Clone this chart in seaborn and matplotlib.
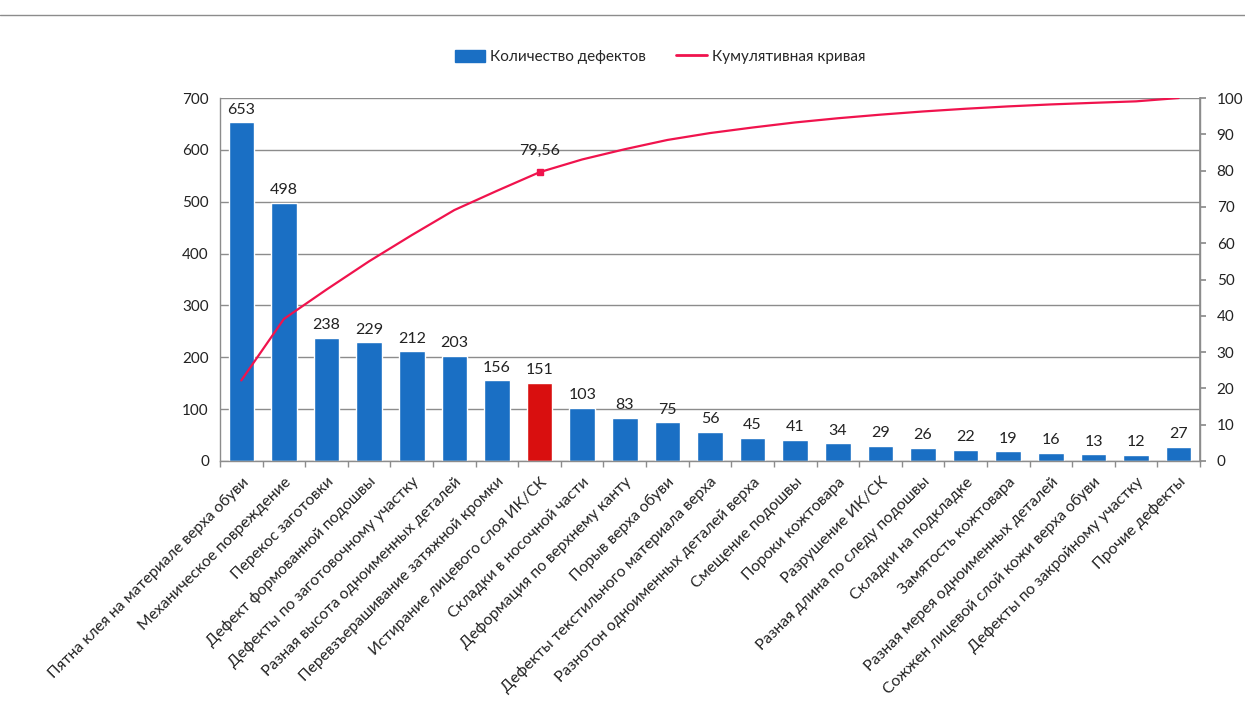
import numpy as np
import matplotlib
matplotlib.use("Agg")
import matplotlib.pyplot as plt
import seaborn as sns
from matplotlib.patches import Patch
from matplotlib.lines import Line2D

categories = [
    "Пятна клея на материале верха обуви",
    "Механическое повреждение",
    "Перекос заготовки",
    "Дефект формованной подошвы",
    "Дефекты по заготовочному участку",
    "Разная высота одноименных деталей",
    "Перевзъерашивание затяжной кромки",
    "Истирание лицевого слоя ИК/СК",
    "Складки в носочной части",
    "Деформация по верхнему канту",
    "Порыв верха обуви",
    "Дефекты текстильного материала верха",
    "Разнотон одноименных деталей верха",
    "Смещение подошвы",
    "Пороки кожтовара",
    "Разрушение ИК/СК",
    "Разная длина по следу подошвы",
    "Складки на подкладке",
    "Замятость кожтовара",
    "Разная мерея одноименных деталей",
    "Сожжен лицевой слой кожи верха обуви",
    "Дефекты по закройному участку",
    "Прочие дефекты",
]
counts = [653, 498, 238, 229, 212, 203, 156, 151, 103, 83, 75, 56, 45, 41, 34,
          29, 26, 22, 19, 16, 13, 12, 27]
cumulative = [22.20, 39.14, 47.23, 55.02, 62.22, 69.13, 74.43, 79.56, 83.07,
              85.89, 88.44, 90.34, 91.87, 93.27, 94.42, 95.41, 96.29, 97.04,
              97.69, 98.23, 98.67, 99.08, 100.0]
highlight_index = 7
left_ticks = [0, 100, 200, 300, 400, 500, 600, 700]
right_ticks = [0, 10, 20, 30, 40, 50, 60, 70, 80, 90, 100]
legend_labels = ["Количество дефектов", "Кумулятивная кривая"]

sns.set_theme(style="white")
plt.rcParams['font.family'] = ['Lato', 'DejaVu Sans']

BLUE = "#1a6fc4"
RED_BAR = "#d90f0f"
LINE = "#f0134d"
GRID = "#8c8c8c"
TXT = "#222222"

fig = plt.figure(figsize=(12.45, 7.22), dpi=100)
ax = fig.add_axes([220/1245, 1-461/722, (1200-220)/1245, (461-98)/722])

n = len(categories)
colors = [RED_BAR if i == highlight_index else BLUE for i in range(n)]
sns.barplot(x=list(range(n)), y=counts, hue=list(range(n)), palette=colors,
            legend=False, width=0.6, ax=ax, saturation=1)

ax.set_xlim(-0.5, n - 0.5)
ax.set_ylim(0, 700)
ax.set_yticks(left_ticks)
ax.set_yticklabels([str(t) for t in left_ticks], fontsize=11, color=TXT)
ax.yaxis.grid(True, color=GRID, lw=1)
ax.set_axisbelow(True)
ax.set_xlabel("")
ax.set_ylabel("")

# x tick labels
ax.set_xticks(range(n))
ax.set_xticklabels(categories, rotation=45, ha="right", rotation_mode="anchor",
                   fontsize=11.3, color=TXT)
ax.tick_params(axis="x", length=0, pad=10)
ax.tick_params(axis="y", length=0, pad=8)
ax.set_xticks(np.arange(-0.5, n, 1.0), minor=True)
ax.tick_params(axis="x", which="minor", length=4, color=GRID, direction="out", bottom=True)

ax.spines["top"].set_visible(False)
for side in ["left", "bottom", "right"]:
    ax.spines[side].set_color(GRID)
    ax.spines[side].set_linewidth(1)

# bar labels
for i, v in enumerate(counts):
    ax.annotate(str(v), (i, v), xytext=(0, 4), textcoords="offset points",
                ha="center", va="bottom", fontsize=11.5, color=TXT)

# cumulative curve
ax2 = ax.twinx()
sns.lineplot(x=list(range(n)), y=cumulative, ax=ax2, color=LINE, lw=1.6)
ax2.set_ylim(0, 100)
ax2.set_yticks(right_ticks)
ax2.set_yticklabels([str(t) for t in right_ticks], fontsize=11, color=TXT)
ax2.tick_params(axis="y", length=4, color=GRID, direction="out", pad=8)
ax2.set_xlim(-0.5, n - 0.5)
ax2.set_ylabel("")
for side in ["top", "left", "bottom"]:
    ax2.spines[side].set_visible(False)
ax2.spines["right"].set_color(GRID)
ax2.grid(False)

ax2.plot([highlight_index], [cumulative[highlight_index]], marker="s", ms=4,
         color=LINE, lw=0)
ax2.annotate(f"{cumulative[highlight_index]:.2f}".replace(".", ","),
             (highlight_index, cumulative[highlight_index]),
             xytext=(0, 10), textcoords="offset points", ha="center",
             va="bottom", fontsize=11.5, color=TXT)

# top border line
fig.add_artist(Line2D([0, 1], [1-15/722, 1-15/722], color="#8c8c8c", lw=1,
                      transform=fig.transFigure))

handles = [Patch(facecolor=BLUE, edgecolor=BLUE),
           Line2D([0], [0], color=LINE, lw=2)]
fig.legend(handles, legend_labels, loc="center",
           bbox_to_anchor=(660/1245, 1-57/722), ncol=2, frameon=False,
           fontsize=11, handlelength=2.0, handleheight=0.9,
           columnspacing=2.0, handletextpad=0.3)

fig.savefig("out.png", dpi=100, facecolor="white")
